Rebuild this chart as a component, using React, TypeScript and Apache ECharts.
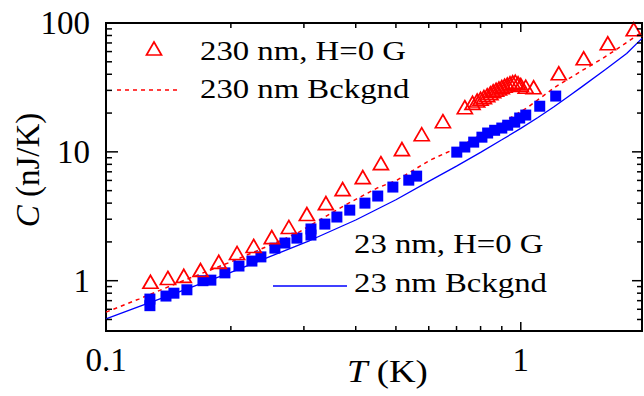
import React, { useEffect, useRef } from 'react';
import * as echarts from 'echarts';

// 230 nm, H=0 G (hollow red triangles)
const tri230T = [0.128, 0.141, 0.154, 0.169, 0.187, 0.207, 0.227, 0.251, 0.276, 0.305, 0.339, 0.372, 0.416, 0.46, 0.517, 0.577, 0.649, 0.733, 0.765, 0.785, 0.8, 0.815, 0.83, 0.845, 0.858, 0.872, 0.886, 0.9, 0.914, 0.928, 0.942, 0.956, 0.97, 0.985, 1.0, 1.028, 1.074, 1.235, 1.418, 1.621, 1.872];
const tri230C = [0.98, 1.05, 1.09, 1.21, 1.4, 1.64, 1.86, 2.18, 2.61, 3.29, 4.0, 5.14, 6.37, 8.17, 10.5, 13.7, 17.3, 22.2, 24.0, 25.0, 25.8, 26.6, 27.5, 28.5, 29.5, 30.3, 31.0, 31.8, 32.6, 33.3, 34.0, 34.6, 35.0, 34.0, 33.0, 32.0, 31.7, 40.7, 53.2, 69.6, 89.3];

// 23 nm, H=0 G (filled blue squares)
const sq23T = [0.1276, 0.1276, 0.1395, 0.1458, 0.1567, 0.1713, 0.179, 0.1935, 0.2092, 0.2248, 0.2363, 0.2554, 0.27, 0.2886, 0.312, 0.312, 0.337, 0.3603, 0.387, 0.421, 0.452, 0.4916, 0.537, 0.561, 0.701, 0.733, 0.77, 0.806, 0.832, 0.865, 0.9, 0.93, 0.967, 0.994, 1.028, 1.111, 1.214];
const sq23C = [0.64, 0.72, 0.76, 0.8, 0.85, 1.0, 1.01, 1.15, 1.3, 1.42, 1.53, 1.79, 1.96, 2.14, 2.26, 2.52, 2.75, 3.12, 3.53, 4.0, 4.54, 5.33, 6.03, 6.48, 9.95, 10.9, 11.9, 13.0, 14.0, 14.7, 15.3, 16.1, 17.0, 18.3, 19.3, 22.6, 27.1];

// 230 nm Bckgnd (red dashed)
const bg230T = [0.1, 0.12, 0.15, 0.2, 0.25, 0.289, 0.377, 0.45, 0.503, 0.604, 0.701, 0.866, 1.04, 1.208, 1.41, 1.577, 1.76, 1.96];
const bg230C = [0.57, 0.72, 0.97, 1.4, 1.9, 2.34, 3.86, 5.23, 6.03, 8.62, 10.7, 15.5, 22.2, 31.7, 43, 53.2, 67.2, 85];

// 23 nm Bckgnd (blue solid)
const bg23T = [0.1, 0.12, 0.15, 0.2, 0.25, 0.31, 0.4, 0.5, 0.6, 0.7, 0.8, 0.9, 1.0, 1.1, 1.2, 1.3, 1.4, 1.6, 1.8, 1.96];
const bg23C = [0.505, 0.63, 0.82, 1.16, 1.55, 2.05, 2.96, 4.25, 5.9, 7.75, 9.9, 12.4, 15.2, 18.5, 22.3, 26.8, 31.8, 43.5, 58, 76];

const xMajor = [0.1, 1];
const xMinor = [0.2, 0.3, 0.4, 0.5, 0.6, 0.7, 0.8, 0.9];
const yMajor = [1, 10, 100];
const yMinor = [0.5, 0.6, 0.7, 0.8, 0.9, 2, 3, 4, 5, 6, 7, 8, 9, 20, 30, 40, 50, 60, 70, 80, 90];

const legendLabels = ['230 nm, H=0 G', '230 nm Bckgnd', '23 nm, H=0 G', '23 nm Bckgnd'];

const FONT = '"Liberation Serif", "Times New Roman", serif';
const RED = '#ff0000';
const BLUE = '#0000ff';

const zip = (a: number[], b: number[]) => a.map((v, i) => [v, b[i]]);

const fmt = (v: number) => {
  const l = Math.log10(v);
  if (Math.abs(l - Math.round(l)) < 1e-6) {
    return String(Number(Math.pow(10, Math.round(l)).toPrecision(1)));
  }
  return '';
};

export default function App() {
  const ref = useRef<HTMLDivElement>(null);
  useEffect(() => {
    const chart = echarts.init(ref.current!, null, { renderer: 'svg' });
    chart.setOption({
      animation: false,
      backgroundColor: '#fff',
      grid: {
        left: 106, right: 2, top: 23, bottom: 65,
        show: true, borderColor: '#000', borderWidth: 2,
        outerBoundsMode: 'none',
      },
      xAxis: {
        type: 'log', min: 0.1, max: 1.96, logBase: 10,
        axisLine: { show: true, lineStyle: { color: '#000', width: 2 } },
        axisTick: { show: false },
        splitLine: { show: false },
        axisLabel: { formatter: fmt, color: '#000', fontFamily: FONT, fontSize: 33, margin: 12 },
      },
      yAxis: {
        type: 'log', min: 0.407, max: 100, logBase: 10,
        axisLine: { show: true, lineStyle: { color: '#000', width: 2 } },
        axisTick: { show: false },
        splitLine: { show: false },
        axisLabel: { formatter: fmt, color: '#000', fontFamily: FONT, fontSize: 33, margin: 16 },
      },
      series: [
        {
          name: legendLabels[1], type: 'line', data: zip(bg230T, bg230C), showSymbol: false,
          lineStyle: { color: RED, width: 1.5, type: [4, 4] }, z: 2,
        },
        {
          name: legendLabels[3], type: 'line', data: zip(bg23T, bg23C), showSymbol: false,
          lineStyle: { color: BLUE, width: 1.3 }, z: 2,
        },
        {
          name: legendLabels[2], type: 'scatter', data: zip(sq23T, sq23C), symbol: 'rect', symbolSize: 11,
          itemStyle: { color: BLUE, opacity: 1 }, z: 3,
        },
        {
          name: legendLabels[0], type: 'scatter', data: zip(tri230T, tri230C), symbol: 'triangle', symbolSize: [15, 13],
          itemStyle: { color: 'rgba(255,255,255,0)', borderColor: RED, borderWidth: 1.7, opacity: 1 }, z: 4,
        },
      ],
    });

    const X0 = 106, X1 = 642, Y0 = 23, Y1 = 331;
    const els: any[] = [];
    const tick = (x1: number, y1: number, x2: number, y2: number) =>
      els.push({ type: 'line', shape: { x1, y1, x2, y2 }, style: { stroke: '#000', lineWidth: 1.5 }, z: 10 });
    xMajor.forEach((v) => {
      const p = chart.convertToPixel({ xAxisIndex: 0 }, v) as number;
      tick(p, Y1, p, Y1 - 9);
      tick(p, Y0, p, Y0 + 9);
    });
    xMinor.forEach((v) => {
      const p = chart.convertToPixel({ xAxisIndex: 0 }, v) as number;
      tick(p, Y1, p, Y1 - 5);
      tick(p, Y0, p, Y0 + 5);
    });
    yMajor.forEach((v) => {
      const p = chart.convertToPixel({ yAxisIndex: 0 }, v) as number;
      tick(X0, p, X0 + 12, p);
      tick(X1, p, X1 - 10, p);
    });
    yMinor.forEach((v) => {
      const p = chart.convertToPixel({ yAxisIndex: 0 }, v) as number;
      tick(X0, p, X0 + 6, p);
      tick(X1, p, X1 - 5, p);
    });

    const txt = (x: number, y: number, text: string, size = 28) => ({
      type: 'text', x, y, z: 20, scaleX: 1.17,
      style: { text, fill: '#000', font: `${size}px ${FONT}`, align: 'left', verticalAlign: 'middle' },
    });
    els.push({
      type: 'polygon', z: 20,
      shape: { points: [[154, 42], [146.5, 55], [161.5, 55]] },
      style: { fill: 'none', stroke: RED, lineWidth: 1.7 },
    });
    els.push(txt(200, 51, legendLabels[0]));
    els.push({ type: 'line', z: 20, shape: { x1: 117, y1: 90, x2: 181, y2: 90 }, style: { stroke: RED, lineWidth: 1.5, lineDash: [4, 4] } });
    els.push(txt(200, 89, legendLabels[1]));
    els.push(txt(354, 244, legendLabels[2]));
    els.push({ type: 'line', z: 20, shape: { x1: 273, y1: 286, x2: 347, y2: 286 }, style: { stroke: BLUE, lineWidth: 1.5 } });
    els.push(txt(354, 283, legendLabels[3]));

    els.push({
      type: 'text', x: 347, y: 371, z: 20, scaleX: 1.15,
      style: {
        text: '{i|T} (K)', fill: '#000', font: `32px ${FONT}`, align: 'left', verticalAlign: 'middle',
        rich: { i: { fontStyle: 'italic', fontFamily: FONT, fontSize: 32 } },
      },
    });
    els.push({
      type: 'text', x: 28, y: 170, rotation: Math.PI / 2, z: 20,
      style: {
        text: '{i|C} (nJ/K)', fill: '#000', font: `33px ${FONT}`, align: 'center', verticalAlign: 'middle',
        rich: { i: { fontStyle: 'italic', fontFamily: FONT, fontSize: 33 } },
      },
    });

    chart.setOption({ graphic: { elements: els } });
    return () => chart.dispose();
  }, []);
  return <div ref={ref} style={{ position: 'fixed', left: 0, top: 0, width: 644, height: 396 }} />;
}
